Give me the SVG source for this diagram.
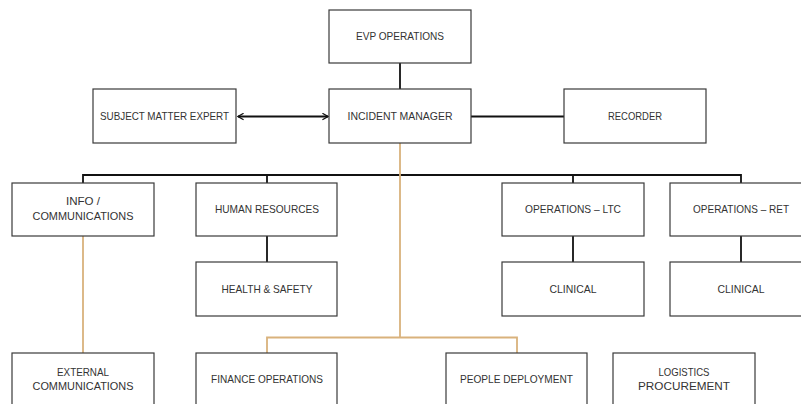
<svg xmlns="http://www.w3.org/2000/svg" width="801" height="404" viewBox="0 0 801 404">
<style>
.box{fill:#fff;stroke:#3a3a3a;stroke-width:1.2}
.t{font-family:"Liberation Sans",Arial,sans-serif;font-size:11px;fill:#333;text-anchor:middle}
.ln{fill:none;stroke:#111;stroke-width:1.8}
.or{fill:none;stroke:#D9B27C;stroke-width:1.8}
</style>
<defs>
<marker id="chev" viewBox="0 0 10 10" refX="9" refY="5" markerWidth="8" markerHeight="8" orient="auto-start-reverse" markerUnits="userSpaceOnUse">
<path d="M2,1 L9,5 L2,9" fill="none" stroke="#111" stroke-width="1.6"/>
</marker>
</defs>
<rect width="801" height="404" fill="#fff"/>
<g id="connectors">
<line class="ln" x1="400" y1="63" x2="400" y2="89"/>
<line class="ln" x1="238" y1="116.5" x2="328" y2="116.5" marker-start="url(#chev)" marker-end="url(#chev)"/>
<line class="ln" x1="471" y1="116.5" x2="564" y2="116.5"/>
<path class="ln" d="M83,183 V175 H741 V183 M267,175 V183 M573,175 V183"/>
<line class="ln" x1="267" y1="236" x2="267" y2="262"/>
<line class="ln" x1="573" y1="236" x2="573" y2="262"/>
<line class="ln" x1="741" y1="236" x2="741" y2="262"/>
<path class="or" d="M400,143 V337.5 M267,353 V337.5 H517 V353"/>
<line class="or" x1="83" y1="236" x2="83" y2="353"/>
</g>
<g id="evp"><rect class="box" x="329" y="10" width="142" height="53"/><text class="t" x="400" y="40" textLength="88" lengthAdjust="spacingAndGlyphs">EVP OPERATIONS</text></g>
<g id="incident"><rect class="box" x="329" y="89" width="142" height="54"/><text class="t" x="400" y="120" textLength="105" lengthAdjust="spacingAndGlyphs">INCIDENT MANAGER</text></g>
<g id="sme"><rect class="box" x="93" y="89" width="143" height="54"/><text class="t" x="164.5" y="120" textLength="129" lengthAdjust="spacingAndGlyphs">SUBJECT MATTER EXPERT</text></g>
<g id="recorder"><rect class="box" x="564" y="89" width="142" height="54"/><text class="t" x="635" y="120" textLength="54" lengthAdjust="spacingAndGlyphs">RECORDER</text></g>
<g id="info"><rect class="box" x="12" y="183" width="142" height="53"/><text class="t" x="83" y="205" textLength="34" lengthAdjust="spacingAndGlyphs">INFO /</text><text class="t" x="83" y="220" textLength="101" lengthAdjust="spacingAndGlyphs">COMMUNICATIONS</text></g>
<g id="hr"><rect class="box" x="196" y="183" width="141" height="53"/><text class="t" x="267" y="213" textLength="104" lengthAdjust="spacingAndGlyphs">HUMAN RESOURCES</text></g>
<g id="opsltc"><rect class="box" x="502" y="183" width="142" height="53"/><text class="t" x="573" y="213" textLength="96" lengthAdjust="spacingAndGlyphs">OPERATIONS – LTC</text></g>
<g id="opsret"><rect class="box" x="670" y="183" width="142" height="53"/><text class="t" x="741" y="213" textLength="96" lengthAdjust="spacingAndGlyphs">OPERATIONS – RET</text></g>
<g id="hs"><rect class="box" x="196" y="262" width="141" height="54"/><text class="t" x="267" y="293" textLength="91" lengthAdjust="spacingAndGlyphs">HEALTH &amp; SAFETY</text></g>
<g id="clinical1"><rect class="box" x="502" y="262" width="142" height="54"/><text class="t" x="573" y="293" textLength="47" lengthAdjust="spacingAndGlyphs">CLINICAL</text></g>
<g id="clinical2"><rect class="box" x="670" y="262" width="142" height="54"/><text class="t" x="741" y="293" textLength="47" lengthAdjust="spacingAndGlyphs">CLINICAL</text></g>
<g id="extcomm"><rect class="box" x="12" y="353" width="142" height="60"/><text class="t" x="83" y="376" textLength="52" lengthAdjust="spacingAndGlyphs">EXTERNAL</text><text class="t" x="83" y="390" textLength="101" lengthAdjust="spacingAndGlyphs">COMMUNICATIONS</text></g>
<g id="finance"><rect class="box" x="196" y="353" width="141" height="60"/><text class="t" x="267" y="383" textLength="112" lengthAdjust="spacingAndGlyphs">FINANCE OPERATIONS</text></g>
<g id="people"><rect class="box" x="446" y="353" width="141" height="60"/><text class="t" x="516.5" y="383" textLength="113" lengthAdjust="spacingAndGlyphs">PEOPLE DEPLOYMENT</text></g>
<g id="logistics"><rect class="box" x="613" y="353" width="142" height="60"/><text class="t" x="684" y="376" textLength="51" lengthAdjust="spacingAndGlyphs">LOGISTICS</text><text class="t" x="684" y="390" textLength="92" lengthAdjust="spacingAndGlyphs">PROCUREMENT</text></g>
</svg>
